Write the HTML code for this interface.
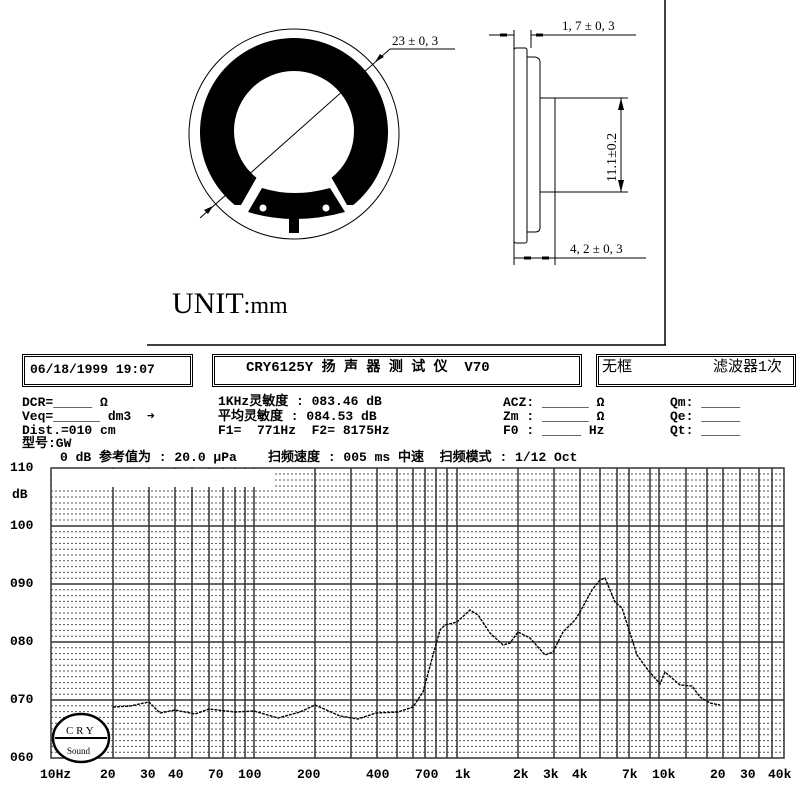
<!DOCTYPE html>
<html><head><meta charset="utf-8"><style>
body{margin:0;background:#fff;width:800px;height:800px;overflow:hidden;position:relative}
.t{position:absolute;font-family:"Liberation Mono","WenQuanYi Zen Hei",monospace;font-weight:bold;font-size:13px;color:#000;white-space:pre;line-height:14px}
.box{position:absolute;border:3px double #000;height:28px;box-sizing:border-box}
</style></head><body>
<svg width="800" height="800" style="position:absolute;left:0;top:0">
<line x1="665" y1="0" x2="665" y2="345" stroke="#000" stroke-width="1.5"/>
<line x1="147" y1="345" x2="666" y2="345" stroke="#000" stroke-width="1.5"/>
<!-- front view -->
<circle cx="294" cy="132" r="94" fill="#000"/>
<polygon points="190,205 241,205 262,168 326,168 347,205 400,205 400,245 190,245" fill="#fff"/>
<circle cx="294" cy="131" r="60" fill="#fff"/>
<circle cx="294" cy="131" r="49" fill="#fff"/>
<path d="M262,188 Q294,198 330,188 L345,212 Q294,226 248,212 Z" fill="#000"/>
<rect x="289" y="215" width="10" height="18" fill="#000"/>
<circle cx="263" cy="208" r="4" fill="#fff" stroke="#000" stroke-width="1"/>
<circle cx="326" cy="208" r="4" fill="#fff" stroke="#000" stroke-width="1"/>
<circle cx="294" cy="134" r="105" fill="none" stroke="#000" stroke-width="1"/>
<line x1="200" y1="218" x2="390" y2="49" stroke="#000" stroke-width="1"/>
<line x1="390" y1="49" x2="455" y2="49" stroke="#000" stroke-width="1"/>
<polygon points="213,206 204,210 208,214" fill="#000"/>
<polygon points="375,62 384,57 380,54" fill="#000"/>
<text x="392" y="45" font-family="Liberation Serif,serif" font-size="13">23 ± 0, 3</text>
<!-- side view -->
<line x1="514" y1="30" x2="514" y2="265" stroke="#000"/>
<line x1="531" y1="30" x2="531" y2="48" stroke="#000"/>
<rect x="514" y="48" width="13" height="195" rx="2" fill="none" stroke="#000"/>
<path d="M527,57 L535,57 Q540,58 540,62 L540,228 Q540,232 535,232 L527,232" fill="none" stroke="#000"/>
<rect x="540" y="98" width="15" height="94" fill="none" stroke="#000"/>
<line x1="555" y1="192" x2="555" y2="265" stroke="#000"/>
<line x1="555" y1="98" x2="628" y2="98" stroke="#000"/>
<line x1="555" y1="192" x2="628" y2="192" stroke="#000"/>
<line x1="621" y1="98" x2="621" y2="192" stroke="#000"/>
<polygon points="621,98 618,110 624,110" fill="#000"/>
<polygon points="621,192 618,180 624,180" fill="#000"/>
<text transform="translate(616,182) rotate(-90)" font-family="Liberation Serif,serif" font-size="14">11.1±0.2</text>
<line x1="489" y1="35" x2="514" y2="35" stroke="#000"/>
<line x1="531" y1="35" x2="636" y2="35" stroke="#000"/>
<rect x="500" y="33.5" width="7" height="3" fill="#000"/>
<rect x="536" y="33.5" width="7" height="3" fill="#000"/>
<text x="562" y="30" font-family="Liberation Serif,serif" font-size="13">1, 7 ± 0, 3</text>
<line x1="514" y1="258" x2="646" y2="258" stroke="#000"/>
<rect x="524" y="256.5" width="7" height="3" fill="#000"/>
<rect x="542" y="256.5" width="7" height="3" fill="#000"/>
<text x="570" y="253" font-family="Liberation Serif,serif" font-size="13">4, 2 ± 0, 3</text>
<text x="172" y="313" font-family="Liberation Serif,serif" font-size="30">UNIT<tspan font-size="24">:mm</tspan></text>
<!-- chart -->
<g stroke="#555" stroke-width="1" stroke-dasharray="2,2">
<line x1="51" x2="784" y1="474" y2="474"/><line x1="51" x2="784" y1="480" y2="480"/><line x1="51" x2="784" y1="486" y2="486"/><line x1="51" x2="784" y1="491" y2="491"/><line x1="51" x2="784" y1="497" y2="497"/><line x1="51" x2="784" y1="503" y2="503"/><line x1="51" x2="784" y1="509" y2="509"/><line x1="51" x2="784" y1="514" y2="514"/><line x1="51" x2="784" y1="520" y2="520"/>
</g>
<g id="dots" stroke="#555" stroke-width="1" stroke-dasharray="2,2"></g>
<g id="solid" stroke="#333" stroke-width="1.5"></g>
<rect x="52" y="469" width="222" height="18" fill="#fff"/>
<rect x="51" y="468" width="733" height="290" fill="none" stroke="#333" stroke-width="1.5"/>
<polyline fill="none" stroke="#000" stroke-width="1.4" stroke-dasharray="3,1" points="113,707 130,706 149,702 160,713 175,710 195,714 209,709 235,712 254,711 278,718 300,712 315,705 340,716 358,719 376,713 398,712 413,707 423,692 433,655 440,630 445,625 457,622 470,610 478,615 490,633 503,645 510,643 518,632 530,638 545,655 553,652 563,632 575,620 580,612 592,590 600,580 605,578 615,602 622,608 629,630 637,655 648,670 660,684 665,672 680,685 692,686 700,697 710,703 720,705"/>
<ellipse cx="81" cy="738" rx="28" ry="24" fill="#fff" stroke="#000" stroke-width="2.5"/>
<line x1="55" y1="738" x2="107" y2="738" stroke="#000" stroke-width="2"/>
<text x="66" y="734" font-family="Liberation Serif,serif" font-size="11">C R Y</text>
<text x="67" y="754" font-family="Liberation Serif,serif" font-size="9">Sound</text>
</svg>
<script>
var d=document.getElementById('dots'),s=document.getElementById('solid'),ns='http://www.w3.org/2000/svg';
function L(g,a,b,c,e){var l=document.createElementNS(ns,'line');l.setAttribute('x1',a);l.setAttribute('y1',b);l.setAttribute('x2',c);l.setAttribute('y2',e);g.appendChild(l);}
for(var y=526;y<758;y+=5.8)L(d,51,y,784,y);
[526,584,642,700].forEach(function(y){L(s,51,y,784,y);});
[113,149,175,192,209,223,235,245,254,315,351,377,397,413,425,436,447,457,518,554,580,600,617,629,650,659,686,707,723,740,759,772].forEach(function(x){L(s,x,468,x,758);});
</script>
<div class="box" style="left:22px;top:354px;width:171px;height:33px"></div>
<div class="box" style="left:212px;top:354px;width:370px;height:33px"></div>
<div class="box" style="left:596px;top:354px;width:200px;height:33px"></div>
<div class="t" style="left:30px;top:363px">06/18/1999 19:07</div>
<div class="t" style="left:246px;top:361px;font-size:14px">CRY6125Y 扬 声 器 测 试 仪  V70</div>
<div class="t" style="left:602px;top:361px;font-weight:normal;font-size:15px">无框         滤波器1次</div>
<div class="t" style="left:22px;top:396px">DCR=_____ Ω</div>
<div class="t" style="left:22px;top:410px">Veq=______ dm3  ➜</div>
<div class="t" style="left:22px;top:424px">Dist.=010 cm</div>
<div class="t" style="left:22px;top:437px">型号:GW</div>
<div class="t" style="left:218px;top:395px">1KHz灵敏度 : 083.46 dB</div>
<div class="t" style="left:218px;top:410px">平均灵敏度 : 084.53 dB</div>
<div class="t" style="left:218px;top:424px">F1=  771Hz  F2= 8175Hz</div>
<div class="t" style="left:503px;top:396px">ACZ: ______ Ω</div>
<div class="t" style="left:503px;top:410px">Zm : ______ Ω</div>
<div class="t" style="left:503px;top:424px">F0 : _____ Hz</div>
<div class="t" style="left:670px;top:396px">Qm: _____</div>
<div class="t" style="left:670px;top:410px">Qe: _____</div>
<div class="t" style="left:670px;top:424px">Qt: _____</div>
<div class="t" style="left:60px;top:451px">0 dB 参考值为 : 20.0 μPa    扫频速度 : 005 ms 中速  扫频模式 : 1/12 Oct</div>
<div class="t" style="left:10px;top:461px">110</div>
<div class="t" style="left:12px;top:488px">dB</div>
<div class="t" style="left:10px;top:519px">100</div>
<div class="t" style="left:10px;top:577px">090</div>
<div class="t" style="left:10px;top:635px">080</div>
<div class="t" style="left:10px;top:693px">070</div>
<div class="t" style="left:10px;top:751px">060</div>
<div class="t" style="left:40px;top:768px">10Hz</div>
<div class="t" style="left:100px;top:768px">20</div>
<div class="t" style="left:140px;top:768px">30</div>
<div class="t" style="left:168px;top:768px">40</div>
<div class="t" style="left:208px;top:768px">70</div>
<div class="t" style="left:238px;top:768px">100</div>
<div class="t" style="left:297px;top:768px">200</div>
<div class="t" style="left:366px;top:768px">400</div>
<div class="t" style="left:415px;top:768px">700</div>
<div class="t" style="left:455px;top:768px">1k</div>
<div class="t" style="left:513px;top:768px">2k</div>
<div class="t" style="left:543px;top:768px">3k</div>
<div class="t" style="left:572px;top:768px">4k</div>
<div class="t" style="left:622px;top:768px">7k</div>
<div class="t" style="left:652px;top:768px">10k</div>
<div class="t" style="left:710px;top:768px">20</div>
<div class="t" style="left:740px;top:768px">30</div>
<div class="t" style="left:768px;top:768px">40k</div>
</body></html>
